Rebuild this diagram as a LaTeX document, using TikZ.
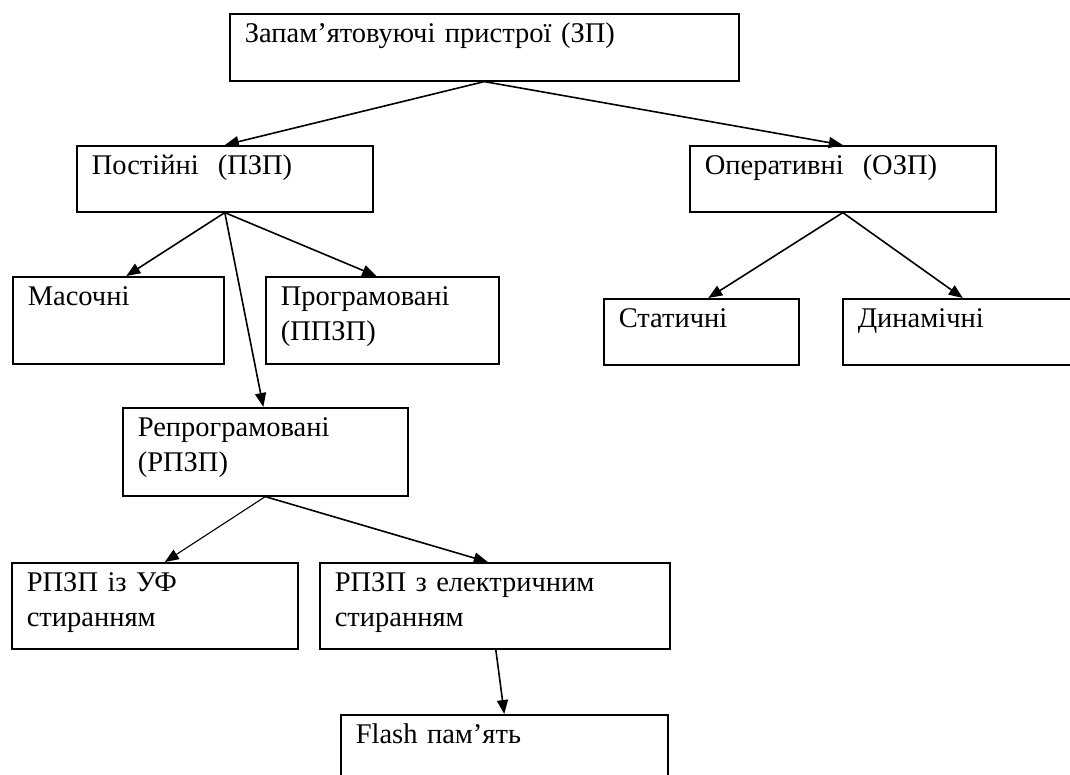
\documentclass[tikz,border=0pt]{standalone}
\usepackage{fontspec}
\setmainfont{Liberation Serif}
\usetikzlibrary{arrows.meta}
\tikzset{>={Triangle[length=14pt,width=11pt]}}
\tikzset{box/.style={draw, anchor=north west, align=left, inner xsep=15pt, inner ysep=0pt, text height=29pt}}

\begin{document}
\begin{tikzpicture}[x=1pt, y=-1pt, line width=1.6pt, font=\fontsize{28.5}{35}\selectfont]
		\useasboundingbox (0,0) rectangle (1070,774);
		\node[box, text width=479pt, text depth=38pt] (zp) at (229,13) {Запам’ятовуючі пристрої (ЗП)};
		\node[box, text width=266pt, text depth=37pt] (pzp) at (76,145) {Постійні\ \ (ПЗП)};
		\node[box, text width=276pt, text depth=37pt] (ozp) at (689,145) {Оперативні\ \ (ОЗП)};
		\node[box, text width=181pt, text depth=58pt] (mask) at (12,276) {Масочні};
		\node[box, text width=203pt, text depth=58pt] (ppzp) at (265,276) {Програмовані\\(ППЗП)};
		\node[box, text width=165pt, text depth=37pt] (stat) at (603,298) {Статичні};
		\node[box, text width=210pt, text depth=37pt] (dyn) at (842,298) {Динамічні};
		\node[box, text width=255pt, text depth=59pt] (rpzp) at (122,407) {Репрограмовані\\(РПЗП)};
		\node[box, text width=256pt, text depth=57pt] (uf) at (11,562) {РПЗП із УФ\\стиранням};
		\node[box, text width=320pt, text depth=57pt] (el) at (319,562) {РПЗП з електричним\\стиранням};
		\node[box, text width=297pt, text depth=51pt] (flash) at (340,714) {Flash пам’ять};
		\draw [->](zp.south)--(pzp.north); \draw [->](zp.south)--(ozp.north);
		\draw [->](pzp.south)--([xshift=8pt]mask.north);
		\draw [->](pzp.south)--([xshift=-6pt]ppzp.north);
		\draw [->](pzp.south)--([xshift=-2pt]rpzp.north);
		\draw [->](ozp.south)--([xshift=7pt]stat.north);
		\draw [->](ozp.south)--(dyn.north);
		\draw [->, line width=1.1pt](rpzp.south)--([xshift=10pt]uf.north);
		\draw [->](rpzp.south)--([xshift=-7pt]el.north);
		\draw [->]([xshift=1pt]el.south)--(flash.north);
\end{tikzpicture}
\end{document}
